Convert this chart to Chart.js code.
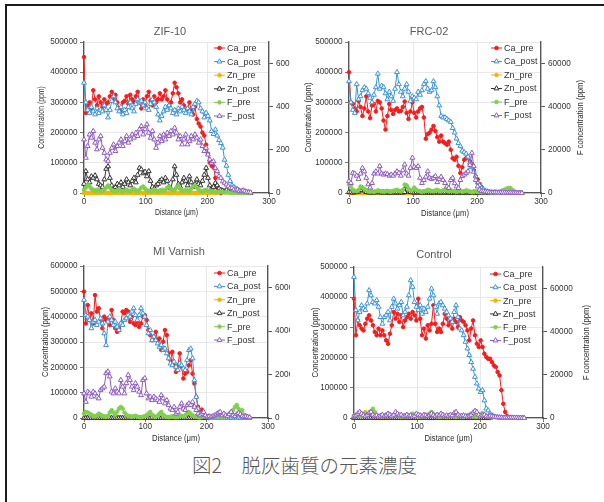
<!DOCTYPE html>
<html>
<head>
<meta charset="utf-8">
<script src="https://cdn.jsdelivr.net/npm/chart.js"></script>
<style>
body { margin: 0; width: 604px; height: 502px; overflow: hidden; position: relative; background: #fff; }
#frame { position: absolute; left: 5px; top: 4px; width: 660px; height: 560px; border-left: 2px solid #1b1b1b; border-top: 2px solid #1b1b1b; }
canvas { position: absolute; background: #fff; }
#caption { position: absolute; left: 192px; top: 454px; font: 300 19.5px "Noto Sans CJK JP", sans-serif; line-height: 22px; color: #555; white-space: pre; }
</style>
</head>
<body>
<div id="frame"></div>
<canvas id="zif" width="270" height="205" style="left:36px;top:20px"></canvas>
<canvas id="mi" width="270" height="210" style="left:36px;top:240px"></canvas>
<canvas id="frc" width="310" height="205" style="left:290px;top:20px"></canvas>
<canvas id="ctl" width="310" height="210" style="left:290px;top:240px"></canvas>
<div id="caption">図2　脱灰歯質の元素濃度</div>
<script>
// distance (µm) of each measuring point
var distance = [
  0, 3, 6, 9, 12, 15, 18, 21, 24, 27,
  30, 33, 36, 39, 42, 45, 48, 51, 54, 57,
  60, 63, 66, 69, 72, 75, 78, 81, 84, 87,
  90, 93, 96, 99, 102, 105, 108, 111, 114, 117,
  120, 123, 126, 129, 132, 135, 138, 141, 144, 147,
  150, 153, 156, 159, 162, 165, 168, 171, 174, 177,
  180, 183, 186, 189, 192, 195, 198, 201, 204, 207,
  210, 213, 216, 219, 222, 225, 228, 231, 234, 237,
  240, 243, 246, 249, 252, 255, 258, 261, 264, 267,
  270
];

var seriesNames = ['Ca_pre', 'Ca_post', 'Zn_pre', 'Zn_post', 'F_pre', 'F_post'];
var seriesColors = ['#f41c1c', '#3a94d6', '#f2b400', '#333333', '#80cf4e', '#8e5bc0'];
var seriesAxis = ['y', 'y', 'y', 'y', 'y2', 'y2'];

var distanceTicks = [0, 100, 200, 300];
var rightTicks = [0, 20000, 40000, 60000];

// ---- ZIF-10 ----
var zifCaPre = [
  450000, 265000, 290000, 300000, 280000, 340000, 310000, 290000, 320000, 300000,
  285000, 310000, 295000, 300000, 320000, 335000, 310000, 325000, 300000, 280000,
  270000, 300000, 305000, 320000, 295000, 325000, 310000, 300000, 320000, 335000,
  300000, 280000, 310000, 290000, 320000, 335000, 305000, 290000, 320000, 300000,
  310000, 330000, 310000, 320000, 340000, 310000, 290000, 300000, 330000, 365000,
  350000, 330000, 300000, 310000, 290000, 275000, 280000, 300000, 275000, 260000,
  285000, 245000, 230000, 220000, 200000, 190000, 160000, 130000, 100000, 90000,
  85000, 50000, 20000, 5000, 0, null, null, null, null, null,
  null, null, null, null, null, null, null, null, null, null,
  null
];
var zifCaPost = [
  365000, 300000, 275000, 265000, 285000, 270000, 260000, 280000, 265000, 275000,
  270000, 290000, 275000, 250000, 275000, 305000, 320000, 300000, 280000, 270000,
  285000, 260000, 275000, 265000, 285000, 300000, 280000, 270000, 295000, 310000,
  300000, 305000, 290000, 300000, 280000, 275000, 295000, 310000, 300000, 285000,
  260000, 240000, 255000, 270000, 285000, 275000, 290000, 280000, 265000, 275000,
  260000, 280000, 270000, 285000, 275000, 265000, 280000, 270000, 260000, 285000,
  295000, 305000, 300000, 280000, 270000, 250000, 265000, 255000, 240000, 205000,
  195000, 210000, 190000, 175000, 165000, 150000, 110000, 90000, 60000, 40000,
  25000, 20000, 15000, 12000, 8000, 5000, 4000, 3000, 2000, 2000,
  1000
];
var zifZnPre = [
  0, 0, 0, 0, 0, 0, 0, 0, 0, 0,
  0, 0, 0, 0, 0, 0, 0, 0, 0, 0,
  0, 0, 0, 0, 0, 0, 0, 0, 0, 0,
  0, 0, 0, 0, 0, 0, 0, 0, 0, 0,
  0, 0, 0, 0, 0, 0, 0, 0, 0, 0,
  0, 0, 0, 0, 0, 0, 0, 0, 0, 0,
  0, 0, 0, 0, 0, 0, 0, 0, 0, 0,
  0, 0, 0, null, null, null, null, null, null, null,
  null, null, null, null, null, null, null, null, null, null,
  null
];
var zifZnPost = [
  30000, 72000, 45000, 35000, 55000, 50000, 58000, 45000, 30000, 25000,
  20000, 45000, 80000, 88000, 50000, 25000, 10000, 20000, 30000, 25000,
  35000, 20000, 30000, 45000, 35000, 25000, 40000, 50000, 35000, 60000,
  83000, 78000, 65000, 70000, 55000, 72000, 40000, 20000, 15000, 25000,
  30000, 40000, 45000, 35000, 50000, 40000, 20000, 15000, 45000, 88000,
  60000, 30000, 20000, 35000, 50000, 40000, 25000, 55000, 35000, 20000,
  30000, 45000, 30000, 25000, 40000, 60000, 83000, 50000, 25000, 15000,
  20000, 33000, 25000, 15000, 10000, 8000, 5000, 10000, 5000, 3000,
  5000, 3000, 2000, 4000, 2000, 1000, 2000, 1000, 0, 0,
  0
];
var zifFPre = [
  1500, 2500, 3800, 3000, 2000, 1500, 1000, 1500, 1200, 800,
  1000, 1500, 2500, 3500, 2500, 1500, 1000, 800, 1200, 1500,
  1000, 800, 1200, 1500, 1000, 800, 1500, 2000, 1200, 1000,
  1500, 2500, 3000, 2000, 1200, 1000, 800, 1200, 1500, 1000,
  800, 1200, 1500, 1000, 1500, 2500, 3000, 2000, 1200, 1500,
  2500, 3500, 2000, 1200, 1000, 1500, 1200, 1000, 2000, 3000,
  3500, 2500, 1500, 1000, 800, 1200, 1500, 1000, 800, 600,
  800, 500, 400, 600, 500, 300, 200, 300, 200, 100,
  100, 200, 100, 0, 100, 0, 0, 0, 0, 0,
  0
];
var zifFPost = [
  24800, 16300, 21700, 27100, 25600, 28700, 23300, 20200, 24800, 26400,
  20900, 18600, 15500, 14700, 18600, 20900, 22500, 19400, 21700, 23300,
  24800, 21700, 24000, 26400, 23300, 24800, 27100, 25600, 27900, 26400,
  29500, 31000, 27100, 29500, 31800, 27900, 25600, 28700, 24800, 20900,
  23300, 26400, 24000, 27100, 24800, 27900, 26400, 28700, 27100, 30200,
  27900, 24800, 26400, 22500, 24800, 27100, 22500, 24000, 26400, 24800,
  27100, 25600, 23300, 24800, 21700, 19400, 20900, 17800, 15500, 14000,
  14700, 11600, 10100, 7800, 7000, 5400, 4700, 3900, 3100, 2300,
  2300, 1600, 1200, 1600, 800, 800, 1200, 800, 500, 300,
  200
];

// ---- FRC-02 ----
var frcCaPre = [
  400000, 300000, 295000, 280000, 270000, 305000, 285000, 255000, 280000, 320000,
  270000, 248000, 290000, 295000, 270000, 305000, 300000, 280000, 240000, 210000,
  255000, 295000, 275000, 262000, 275000, 280000, 270000, 272000, 285000, 303000,
  265000, 245000, 270000, 300000, 265000, 250000, 270000, 280000, 285000, 250000,
  180000, 195000, 200000, 210000, 222000, 205000, 185000, 170000, 190000, 170000,
  165000, 160000, 170000, 143000, 115000, 110000, 120000, 90000, 66000, 85000,
  110000, 115000, 120000, 105000, 95000, 75000, 55000, 45000, 30000, 20000,
  10000, 5000, 2000, 0, null, null, null, null, null, null,
  null, null, null, null, null, null, null, null, null, null,
  null
];
var frcCaPost = [
  370000, 300000, 275000, 265000, 360000, 310000, 320000, 340000, 350000, 345000,
  330000, 315000, 300000, 325000, 350000, 395000, 345000, 355000, 350000, 330000,
  310000, 335000, 320000, 305000, 345000, 400000, 360000, 335000, 320000, 345000,
  360000, 335000, 305000, 320000, 315000, 310000, 335000, 325000, 340000, 360000,
  370000, 345000, 335000, 340000, 370000, 350000, 320000, 290000, 255000, 250000,
  250000, 245000, 240000, 235000, 215000, 200000, 180000, 165000, 155000, 140000,
  135000, 130000, 120000, 100000, 85000, 70000, 55000, 35000, 25000, 15000,
  12000, 8000, 5000, 3000, 2000, 1000, 2000, 1000, 1000, 1000,
  1000, 1000, 1000, 1000, 1000, 0, 1000, 0, 0, 0,
  0
];
var frcZnPre = [
  0, 0, 0, 0, 0, 0, 0, 0, 0, 0,
  0, 0, 0, 0, 0, 0, 0, 0, 0, 0,
  0, 0, 0, 0, 0, 0, 0, 0, 0, 0,
  0, 0, 0, 0, 0, 0, 0, 0, 0, 0,
  0, 0, 0, 0, 0, 0, 0, 0, 0, 0,
  0, 0, 0, 0, 0, 0, 0, 0, 0, 0,
  0, 0, 0, 0, 0, 0, 0, 0, 0, 0,
  0, 0, 0, null, null, null, null, null, null, null,
  null, null, null, null, null, null, null, null, null, null,
  null
];
var frcZnPost = [
  3000, 2000, 1000, 2000, 3000, 5000, 10000, 16000, 8000, 3000,
  2000, 1000, 2000, 1000, 2000, 3000, 2000, 1000, 2000, 1000,
  2000, 1000, 1000, 2000, 1000, 2000, 1000, 2000, 1000, 3000,
  22000, 8000, 3000, 2000, 1000, 2000, 1000, 2000, 1000, 2000,
  1000, 2000, 1000, 1000, 2000, 1000, 2000, 1000, 1000, 2000,
  1000, 1000, 2000, 1000, 1000, 2000, 1000, 1000, 2000, 1000,
  1000, 2000, 1000, 1000, 1000, 2000, 1000, 1000, 0, 0,
  0, 0, 0, null, null, null, null, null, null, null,
  null, null, null, null, null, null, null, null, null, null,
  null
];
var frcFPre = [
  3900, 3000, 1500, 1000, 800, 1500, 3000, 2500, 2000, 1200,
  800, 600, 800, 500, 800, 1200, 1000, 800, 600, 800,
  1000, 800, 600, 1000, 1200, 1500, 1000, 800, 1500, 3900,
  3500, 2000, 1200, 1500, 2500, 1500, 1000, 800, 600, 800,
  1000, 1500, 1200, 1000, 800, 1200, 1500, 1000, 800, 1200,
  1500, 1000, 800, 1200, 1000, 800, 600, 800, 1000, 600,
  800, 1200, 1000, 600, 400, 600, 800, 600, 400, 300,
  400, 300, 500, 300, 200, 300, 500, 300, 600, 800,
  1200, 1500, 2000, 2300, 2300, 1500, 800, 500, 300, 200,
  100
];
var frcFPost = [
  5400, 4600, 9300, 9000, 8000, 6500, 9000, 11600, 10000, 7000,
  4000, 2500, 4600, 9000, 10000, 9000, 12400, 9000, 8500, 9000,
  8800, 8000, 8500, 8000, 9000, 10000, 9300, 8000, 10500, 13200,
  9000, 8000, 11600, 16300, 12000, 11600, 12400, 7000, 4600, 6000,
  7500, 10000, 7000, 6500, 7000, 7800, 5000, 6500, 7500, 6000,
  4600, 3000, 2300, 6000, 7000, 4500, 3000, 2300, 6000, 7800,
  8500, 9300, 10000, 13000, 18600, 12400, 6000, 3000, 1500, 800,
  800, 600, 500, 300, 200, 200, 300, 200, 100, 100,
  200, 100, 100, 100, 200, 100, 100, 100, 0, 0,
  0
];

// ---- MI Varnish ----
var miCaPre = [
  499000, 373000, 446000, 387000, 413000, 373000, 485000, 420000, 433000, 387000,
  354000, 400000, 387000, 393000, 367000, 426000, 387000, 354000, 340000, 354000,
  373000, 420000, 413000, 426000, 420000, 380000, 400000, 373000, 367000, 380000,
  360000, 373000, 400000, 406000, 387000, 347000, 327000, 307000, 321000, 340000,
  307000, 314000, 268000, 301000, 347000, 327000, 255000, 228000, 261000, 208000,
  182000, 208000, 255000, 202000, 156000, 175000, 182000, 208000, 228000, 175000,
  136000, 83000, 44000, 24000, 33000, 17000, 7000, 3000, 0, null,
  null, null, null, null, null, null, null, null, null, null,
  null, null, null, null, null, null, null, null, null, null,
  null
];
var miCaPost = [
  466000, 406000, 400000, 387000, 354000, 380000, 387000, 367000, 380000, 393000,
  373000, 334000, 288000, 380000, 400000, 387000, 367000, 380000, 360000, 347000,
  373000, 367000, 387000, 393000, 406000, 400000, 420000, 433000, 406000, 387000,
  406000, 433000, 413000, 400000, 367000, 334000, 347000, 307000, 321000, 307000,
  294000, 281000, 288000, 268000, 274000, 255000, 235000, 215000, 208000, 222000,
  202000, 189000, 215000, 208000, 195000, 189000, 228000, 268000, 274000, 235000,
  149000, 83000, 37000, 17000, 11000, 4000, 3000, 2000, 1000, 2000,
  1000, 1000, 2000, 1000, 0, 1000, 2000, 1000, 0, 1000,
  1000, 0, 1000, 2000, 1000, 0, 1000, 0, 1000, 0,
  0
];
var miZnPre = [
  0, 0, 0, 0, 0, 0, 0, 0, 0, 0,
  0, 0, 0, 0, 0, 0, 0, 0, 0, 0,
  0, 0, 0, 0, 0, 0, 0, 0, 0, 0,
  0, 0, 0, 0, 0, 0, 0, 0, 0, 0,
  0, 0, 0, 0, 0, 0, 0, 0, 0, 0,
  0, 0, 0, 0, 0, 0, 0, 0, 0, 0,
  0, 0, 0, 0, 0, 0, 0, 0, null, null,
  null, null, null, null, null, null, null, null, null, null,
  null, null, null, null, null, null, null, null, null, null,
  null
];
var miZnPost = [
  0, 0, 0, 0, 0, 0, 0, 0, 0, 0,
  0, 0, 0, 0, 0, 0, 0, 0, 0, 0,
  0, 0, 0, 0, 0, 0, 0, 0, 0, 0,
  0, 0, 0, 0, 0, 0, 0, 0, 0, 0,
  0, 0, 0, 0, 0, 0, 0, 0, 0, 0,
  0, 0, 0, 0, 0, 0, 0, 0, 0, 0,
  0, 0, 0, 0, 0, 0, 0, 0, null, null,
  null, null, null, null, null, null, null, null, null, null,
  null, null, null, null, null, null, null, null, null, null,
  null
];
var miFPre = [
  2000, 2800, 2500, 2000, 1500, 1000, 800, 1200, 2000, 1500,
  1000, 800, 600, 1000, 2500, 3600, 2500, 1500, 2800, 4300,
  5100, 4300, 2500, 1500, 1000, 800, 600, 800, 1000, 600,
  500, 400, 600, 800, 1200, 2000, 2800, 1500, 800, 600,
  1000, 2000, 2800, 1500, 800, 500, 400, 600, 800, 500,
  400, 600, 800, 1000, 800, 1200, 2000, 2800, 2000, 1200,
  800, 600, 400, 300, 500, 800, 600, 400, 300, 400,
  500, 600, 800, 1000, 600, 400, 800, 1200, 1500, 2000,
  2800, 3600, 5100, 6000, 4300, 2800, 3600, 1500, 800, 500,
  300
];
var miFPost = [
  11300, 7400, 12100, 11300, 9800, 12100, 11300, 9800, 9000, 12900,
  13600, 14400, 20600, 21400, 19100, 12100, 11300, 13600, 12100, 11300,
  17500, 14400, 11300, 16000, 19800, 17500, 14400, 12900, 16000, 14400,
  12100, 10500, 17500, 18300, 11300, 9000, 9800, 8200, 9800, 9000,
  8200, 7400, 10500, 9000, 6700, 8200, 5900, 4300, 3600, 5100,
  2000, 2800, 5100, 6700, 4300, 3600, 5900, 6700, 5900, 7400,
  5100, 3600, 2000, 1200, 2000, 2800, 1200, 500, 800, 500,
  800, 1200, 1700, 2300, 2800, 1200, 2000, 1200, 800, 1700,
  2800, 1200, 800, 1700, 2300, 1700, 800, 500, 800, 500,
  300
];

// ---- Control ----
var ctlCaPre = [
  395000, 274000, 323000, 307000, 296000, 290000, 312000, 329000, 340000, 323000,
  307000, 285000, 274000, 296000, 274000, 290000, 274000, 257000, 246000, 279000,
  307000, 351000, 329000, 345000, 318000, 340000, 301000, 323000, 334000, 345000,
  329000, 351000, 340000, 323000, 395000, 329000, 274000, 296000, 263000, 307000,
  290000, 312000, 373000, 312000, 285000, 296000, 285000, 312000, 345000, 329000,
  307000, 318000, 296000, 329000, 318000, 301000, 334000, 323000, 318000, 307000,
  290000, 257000, 296000, 323000, 274000, 246000, 235000, 257000, 235000, 213000,
  202000, 196000, 196000, 185000, 174000, 169000, 152000, 141000, 92000, 47000,
  20000, 6000, null, null, null, null, null, null, null, null,
  null
];
var ctlCaPost = [
  467000, 357000, 323000, 351000, 373000, 362000, 357000, 379000, 423000, 406000,
  384000, 379000, 390000, 368000, 334000, 312000, 334000, 340000, 351000, 323000,
  368000, 395000, 379000, 362000, 373000, 384000, 340000, 351000, 368000, 406000,
  456000, 434000, 384000, 368000, 357000, 373000, 345000, 362000, 351000, 368000,
  395000, 428000, 406000, 368000, 345000, 379000, 384000, 373000, 362000, 351000,
  340000, 329000, 318000, 351000, 373000, 334000, 296000, 290000, 274000, 252000,
  230000, 208000, 185000, 163000, 136000, 114000, 97000, 86000, 92000, 58000,
  31000, 25000, 14000, 9000, 5000, 3000, 2000, 2000, 1000, 1000,
  2000, 1000, 1000, 0, 1000, 0, 1000, 0, 0, 0,
  0
];
var ctlZnPre = [
  0, 2000, 3000, 5000, 8000, 12000, 20000, 8000, 3000, 1000,
  0, 0, 0, 0, 0, 0, 0, 0, 0, 0,
  0, 0, 0, 0, 0, 0, 0, 0, 0, 0,
  0, 0, 0, 0, 0, 0, 0, 0, 0, 0,
  0, 0, 0, 0, 0, 0, 0, 0, 0, 0,
  0, 0, 0, 0, 0, 0, 0, 0, 0, 0,
  0, 0, 0, 0, 0, 0, 0, 0, 0, 0,
  0, 0, 0, null, null, null, null, null, null, null,
  null, null, null, null, null, null, null, null, null, null,
  null
];
var ctlZnPost = [
  0, 0, 0, 0, 0, 0, 0, 0, 0, 0,
  0, 0, 0, 0, 0, 0, 0, 0, 0, 0,
  0, 0, 0, 0, 0, 0, 0, 0, 0, 0,
  0, 0, 0, 0, 0, 0, 0, 0, 0, 0,
  0, 0, 0, 0, 0, 0, 0, 0, 0, 0,
  0, 0, 0, 0, 0, 0, 0, 0, 0, 0,
  0, 0, 0, 0, 0, 0, 0, 0, 0, 0,
  0, 0, 0, null, null, null, null, null, null, null,
  null, null, null, null, null, null, null, null, null, null,
  null
];
var ctlFPre = [
  1200, 800, 1500, 1000, 800, 1500, 2000, 1500, 2000, 3200,
  4300, 2800, 1500, 800, 600, 800, 1000, 1500, 2000, 1500,
  1000, 1500, 2300, 1500, 800, 600, 800, 1000, 800, 1200,
  1500, 2000, 1500, 800, 600, 800, 1000, 800, 1200, 1500,
  2000, 2800, 2000, 1200, 800, 600, 800, 1000, 800, 600,
  800, 1000, 1200, 800, 600, 800, 1000, 800, 600, 800,
  1200, 1500, 2000, 1200, 800, 600, 1000, 1500, 2300, 1500,
  800, 600, 400, 300, null, null, null, null, null, null,
  null, null, null, null, null, null, null, null, null, null,
  null
];
var ctlFPost = [
  800, 1200, 2000, 2800, 2000, 1200, 800, 1500, 2300, 2800,
  1500, 800, 1200, 600, 1000, 1500, 800, 1200, 2000, 1500,
  800, 1500, 2800, 2000, 1200, 1500, 800, 1000, 1500, 800,
  1200, 600, 1000, 2000, 1500, 1200, 800, 1500, 1200, 800,
  1500, 2000, 1200, 800, 1500, 1200, 2000, 1500, 800, 1200,
  1000, 1500, 1200, 2300, 2800, 1500, 800, 1000, 1200, 800,
  600, 1000, 1500, 2500, 3300, 2800, 1500, 800, 1200, 1500,
  800, 600, 1000, 800, 600, 400, 300, 200, 200, 100,
  200, 100, 100, 200, 100, 100, 100, 0, 100, 0,
  0
];

var leftMax = { zif: 500000, frc: 500000, mi: 600000, ctl: 500000 };

var FONT = '"Liberation Sans", Arial, sans-serif';
Chart.defaults.font.family = FONT;
Chart.defaults.color = '#333';

var panels = [
  { id: 'zif', title: 'ZIF-10', series: [zifCaPre, zifCaPost, zifZnPre, zifZnPost, zifFPre, zifFPost],
    w: 270, h: 205, top: 22, leftW: 48, rightW: 37, titleX: 134, titleY: 12, yTitleX: 6, rTitleX: 262,
    legDx: 42, legDy: 6, legGap: 13.6, axisFont: 8.6 },
  { id: 'frc', title: 'FRC-02', series: [frcCaPre, frcCaPost, frcZnPre, frcZnPost, frcFPre, frcFPost],
    w: 310, h: 205, top: 22, leftW: 59, rightW: 59, titleX: 139, titleY: 12, yTitleX: 18, rTitleX: 290,
    legDx: 37, legDy: 6, legGap: 13.5, axisFont: 9.6 },
  { id: 'mi', title: 'MI Varnish', series: [miCaPre, miCaPost, miZnPre, miZnPost, miFPre, miFPost],
    w: 270, h: 210, top: 26, leftW: 48, rightW: 38, titleX: 143, titleY: 12, yTitleX: 9, rTitleX: 262,
    legDx: 41, legDy: 7, legGap: 13.4, axisFont: 9.6 },
  { id: 'ctl', title: 'Control', series: [ctlCaPre, ctlCaPost, ctlZnPre, ctlZnPost, ctlFPre, ctlFPost],
    w: 310, h: 210, top: 27, leftW: 64, rightW: 57, titleX: 144, titleY: 15, yTitleX: 25, rTitleX: 296,
    legDx: 40, legDy: 7, legGap: 13.3, axisFont: 9.6 }
];

function drawMarker(ctx, style, x, y, r, stroke, fill) {
  ctx.beginPath();
  if (style === 'triangle') {
    var a = 0;
    ctx.moveTo(x + Math.sin(a) * r, y - Math.cos(a) * r);
    a += Math.PI * 2 / 3;
    ctx.lineTo(x + Math.sin(a) * r, y - Math.cos(a) * r);
    a += Math.PI * 2 / 3;
    ctx.lineTo(x + Math.sin(a) * r, y - Math.cos(a) * r);
    ctx.closePath();
  } else {
    ctx.arc(x, y, r, 0, Math.PI * 2);
  }
  ctx.fillStyle = fill;
  ctx.fill();
  ctx.strokeStyle = stroke;
  ctx.lineWidth = 1;
  ctx.stroke();
}

// narrow axis caption: text squeezed along its own direction
function axisText(ctx, text, x, y, rot, size) {
  ctx.save();
  ctx.translate(x, y);
  if (rot) ctx.rotate(rot);
  ctx.scale(0.8, 1);
  ctx.font = size + 'px ' + FONT;
  ctx.fillStyle = '#2b2b2b';
  ctx.textAlign = 'center';
  ctx.textBaseline = 'middle';
  ctx.fillText(text, 0, 0);
  ctx.restore();
}

function decor(p) {
  return {
    id: 'decor',
    afterDraw: function (chart) {
      var ctx = chart.ctx, a = chart.chartArea;
      var midY = (a.top + a.bottom) / 2;
      ctx.save();
      ctx.fillStyle = '#595959';
      ctx.font = '11px ' + FONT;
      ctx.textAlign = 'center';
      ctx.textBaseline = 'middle';
      ctx.fillText(p.title, p.titleX, p.titleY);
      axisText(ctx, 'Concentration (ppm)', p.yTitleX, midY, -Math.PI / 2, p.axisFont);
      axisText(ctx, 'F concentration (ppm)', p.rTitleX, midY, -Math.PI / 2, p.axisFont);
      axisText(ctx, 'Distance (μm)', (a.left + a.right) / 2, p.h - 12, 0, p.axisFont);
      // legend inside the plot
      var tx = a.right - p.legDx;
      chart.data.datasets.forEach(function (ds, i) {
        var y = a.top + p.legDy + i * p.legGap;
        ctx.strokeStyle = ds.borderColor;
        ctx.lineWidth = 1;
        ctx.beginPath();
        ctx.moveTo(tx - 13, y);
        ctx.lineTo(tx - 2, y);
        ctx.stroke();
        drawMarker(ctx, ds.pointStyle, tx - 7.5, y, ds.pointRadius, ds.borderColor, ds.pointBackgroundColor);
        ctx.fillStyle = '#333';
        ctx.font = '9px ' + FONT;
        ctx.textAlign = 'left';
        ctx.textBaseline = 'middle';
        ctx.fillText(ds.label, tx, y + 0.5);
      });
      ctx.restore();
    }
  };
}

function plain(v) { return String(v); }

function build(p) {
  var datasets = seriesNames.map(function (name, i) {
    var post = i % 2 === 1;
    return {
      label: name,
      data: p.series[i],
      yAxisID: seriesAxis[i],
      borderColor: seriesColors[i],
      backgroundColor: seriesColors[i],
      borderWidth: 1,
      pointStyle: post ? 'triangle' : 'circle',
      pointRadius: post ? 2.8 : 1.8,
      pointBorderWidth: 1,
      pointBackgroundColor: post ? '#ffffff' : seriesColors[i],
      pointBorderColor: seriesColors[i],
      order: 5 - i,
      clip: 3
    };
  });
  var tickFont = { size: 8.2, family: FONT };
  new Chart(document.getElementById(p.id), {
    type: 'line',
    data: { labels: distance, datasets: datasets },
    options: {
      responsive: false,
      animation: false,
      devicePixelRatio: 1,
      layout: { padding: { top: p.top, left: 0, right: 0, bottom: 0 } },
      plugins: { legend: { display: false }, tooltip: { enabled: false }, title: { display: false } },
      scales: {
        x: {
          type: 'linear', min: 0, max: 300,
          ticks: { font: tickFont, padding: 0, color: '#333', callback: plain },
          afterBuildTicks: function (s) { s.ticks = distanceTicks.map(function (v) { return { value: v }; }); },
          grid: { color: '#e2e2e2', lineWidth: 0.8, tickLength: 4, tickColor: '#555' },
          border: { color: '#555', width: 1.3 },
          afterFit: function (s) { s.height = 32; }
        },
        y: {
          position: 'left', min: 0, max: leftMax[p.id],
          ticks: { stepSize: 100000, font: tickFont, padding: 2.5, color: '#333', callback: plain },
          grid: { color: '#e2e2e2', lineWidth: 0.8, tickLength: 4, tickColor: '#555' },
          border: { color: '#555', width: 1.3 },
          afterFit: function (s) { s.width = p.leftW; }
        },
        y2: {
          position: 'right', min: 0, max: 70000,
          ticks: { font: tickFont, padding: 3, color: '#333', callback: plain },
          afterBuildTicks: function (s) { s.ticks = rightTicks.map(function (v) { return { value: v }; }); },
          grid: { drawOnChartArea: false, tickLength: 4, tickColor: '#555' },
          border: { color: '#555', width: 1.3 },
          afterFit: function (s) { s.width = p.rightW; }
        }
      }
    },
    plugins: [decor(p)]
  });
}

panels.forEach(build);
</script>
</body>
</html>
